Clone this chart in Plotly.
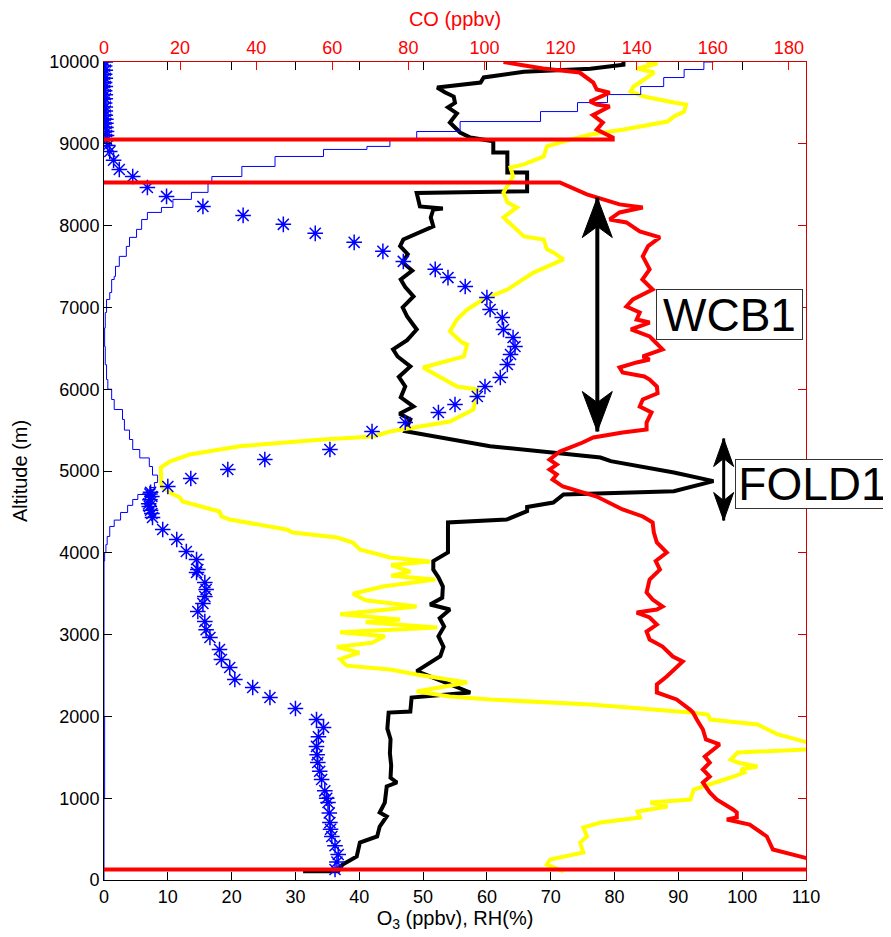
import plotly.graph_objects as go

# (altitude m, ozone ppbv) - black
o3_profile = [
    (108, 31.2), (108, 36.7), (190, 37.4), (287, 39.6), (458, 40.1), (532, 42.8),
    (654, 43.2), (776, 44.3), (825, 43.2), (947, 44.0), (1143, 44.3), (1192, 45.9),
    (1250, 44.9), (1400, 45.0), (1550, 44.8), (1720, 44.9), (1850, 44.4), (2047, 44.6),
    (2060, 48.0), (2231, 48.2), (2292, 57.4), (2553, 49.0), (2736, 52.7), (2850, 53.2),
    (2980, 52.4), (3100, 53.3), (3200, 52.6), (3307, 54.2), (3368, 51.1), (3450, 53.0),
    (3588, 53.1), (3700, 52.4), (3795, 51.6), (3898, 51.6), (4004, 53.9), (4371, 53.9),
    (4407, 63.1), (4509, 66.3), (4560, 66.3), (4615, 70.4), (4713, 72.0), (4753, 89.3),
    (4876, 95.5), (4982, 89.3), (5120, 79.4), (5165, 77.8), (5303, 60.5), (5446, 50.0),
    (5487, 47.2), (5630, 48.0), (5700, 46.3), (5788, 48.5), (5900, 46.5), (6033, 47.2),
    (6150, 46.2), (6278, 48.0), (6400, 46.0), (6486, 45.3), (6600, 47.5), (6730, 49.0),
    (6888, 47.5), (7000, 46.8), (7133, 48.5), (7250, 47.2), (7341, 46.5), (7450, 48.3),
    (7550, 46.8), (7650, 47.6), (7750, 46.4), (7830, 46.9), (7990, 51.6), (8100, 51.2),
    (8197, 51.6), (8210, 53.1), (8235, 49.5), (8400, 49.0), (8421, 66.3), (8649, 66.3),
    (8649, 63.2), (8894, 63.2), (8894, 61.0), (9032, 61.0), (9077, 57.4), (9138, 55.8),
    (9260, 54.2), (9372, 55.3), (9446, 53.9), (9500, 55.0), (9578, 54.8), (9630, 53.4),
    (9688, 52.2), (9749, 59.0), (9811, 59.5), (9880, 65.8), (9917, 76.2), (9966, 81.4),
    (10000, 81.4),
]

# (altitude m, relative humidity %) - yellow
rh_profile = [
    (104, 72.0), (190, 69.4), (251, 69.9), (336, 75.1), (458, 74.6), (532, 75.7),
    (642, 75.1), (703, 77.8), (764, 84.0), (837, 83.6), (898, 88.3), (947, 85.6),
    (984, 91.9), (1106, 92.4), (1253, 98.2), (1314, 100.3), (1351, 99.8), (1388, 102.4),
    (1436, 99.3), (1473, 98.2), (1559, 99.3), (1595, 110.3), (1640, 114.0), (1681, 110.3),
    (1779, 105.6), (1901, 102.4), (1962, 95.0), (2023, 94.6), (2047, 91.9), (2145, 76.2),
    (2207, 60.5), (2244, 54.2), (2304, 49.0), (2414, 56.9), (2512, 49.0), (2573, 44.8),
    (2620, 38.0), (2700, 37.0), (2780, 40.0), (2850, 36.5), (2900, 42.0), (2980, 44.0),
    (3030, 37.0), (3086, 52.2), (3150, 41.0), (3184, 46.4), (3250, 37.0), (3307, 44.3),
    (3343, 49.0), (3420, 41.0), (3500, 39.0), (3588, 43.7), (3673, 51.9), (3720, 45.0),
    (3771, 48.0), (3850, 45.0), (3894, 51.1), (3943, 44.8), (4040, 40.1), (4126, 39.0),
    (4187, 36.5), (4248, 29.6), (4285, 28.6), (4407, 19.7), (4444, 18.4), (4505, 18.1),
    (4627, 12.3), (4676, 11.9), (4737, 10.3), (4810, 9.0), (5042, 8.9), (5116, 10.3),
    (5201, 13.4), (5303, 21.3), (5385, 34.3), (5422, 42.2), (5483, 44.8), (5605, 54.2),
    (5752, 57.9), (5997, 58.5), (6033, 55.3), (6265, 50.0), (6400, 56.4), (6547, 56.9),
    (6571, 56.1), (6706, 54.2), (6852, 55.3), (6974, 56.9), (7097, 59.4), (7218, 63.2),
    (7341, 65.7), (7426, 67.3), (7587, 72.0), (7672, 70.4), (7709, 69.4), (7830, 68.9),
    (7868, 65.8), (7990, 64.1), (8100, 62.6), (8222, 64.7), (8284, 63.2), (8406, 62.6),
    (8480, 63.2), (8600, 64.1), (8711, 63.7), (8748, 65.8), (8846, 68.9), (8968, 69.4),
    (9028, 72.0), (9113, 76.2), (9174, 81.4), (9272, 88.3), (9333, 89.3), (9394, 90.9),
    (9480, 91.2), (9504, 89.3), (9578, 84.6), (9639, 82.5), (9700, 83.0), (9871, 86.2),
    (9920, 83.6), (9980, 86.7), (10000, 85.0),
]

# (altitude m, CO ppbv) - red, top axis; 0 = missing-data drop, None = gap
co_profile = [
    (128, 0), (128, 188.0), (251, 186.0), (287, 182.9), (373, 175.8), (532, 174.2),
    (617, 171.5), (678, 169.7), (740, 163.7), (764, 166.3), (825, 166.3), (862, 165.3),
    (984, 161.0), (1070, 159.2), (1192, 157.4), (1265, 159.2), (1351, 157.4), (1436, 159.2),
    (1510, 157.9), (1657, 161.8), (1718, 158.2), (1840, 157.4), (1962, 155.8), (2047, 154.8),
    (2084, 154.0), (2207, 150.5), (2292, 145.3), (2390, 145.3), (2488, 147.9), (2671, 152.1),
    (2732, 149.5), (2854, 146.8), (2940, 143.4), (3037, 142.6), (3123, 145.3), (3209, 143.4),
    (3270, 140.0), (3307, 145.3), (3343, 146.8), (3429, 144.2), (3515, 142.6), (3673, 143.4),
    (3795, 146.1), (3900, 145.0), (4004, 147.9), (4126, 145.3), (4250, 144.5), (4371, 144.2),
    (4444, 141.6), (4530, 136.3), (4688, 129.5), (4810, 120.6), (4896, 117.9), (4957, 119.0),
    (5018, 117.1), (5079, 119.0), (5140, 117.1), (5238, 119.8), (5348, 125.8), (5409, 128.6),
    (5471, 136.3), (5507, 142.6), (5593, 142.6), (5715, 143.9), (5788, 140.8), (5874, 141.6),
    (5950, 145.5), (6033, 145.3), (6118, 143.4), (6155, 142.0), (6204, 136.3), (6265, 135.5),
    (6327, 140.0), (6363, 143.4), (6400, 141.6), (6486, 146.8), (6608, 144.2), (6645, 143.4),
    (6730, 138.5), (6815, 143.4), (6852, 140.0), (6937, 140.8), (7011, 137.3), (7097, 139.0),
    (7218, 144.2), (7341, 141.5), (7465, 143.4), (7624, 141.6), (7750, 143.0), (7856, 146.1),
    (7929, 140.8), (8039, 137.3), (8075, 132.9), (8161, 135.5), (8222, 141.6), (8259, 135.5),
    (8381, 126.9), (8418, 125.0), (8527, 119.8), (8527, 0), None, (9052, 0), (9052, 133.7),
    (9077, 133.7), (9174, 129.5), (9260, 131.1), (9350, 128.5), (9455, 132.9), (9480, 129.5),
    (9517, 127.7), (9626, 132.9), (9663, 129.5), (9749, 128.6), (9871, 125.0), (9920, 115.4),
    (9960, 110.1), (9984, 106.6), (10000, 105.0),
]

# blue asterisks
star_profile = [
    (128, 36.2), (220, 36.5), (312, 36.7), (420, 36.2), (532, 35.7), (620, 35.5),
    (703, 35.4), (820, 35.3), (947, 35.1), (1000, 34.9), (1090, 34.6), (1228, 34.1),
    (1330, 33.8), (1436, 33.5), (1530, 33.4), (1633, 33.3), (1750, 33.6), (1865, 34.4),
    (1962, 33.3), (2096, 30.0), (2231, 26.0), (2353, 23.3), (2451, 20.5), (2598, 19.7),
    (2695, 18.4), (2818, 18.1), (2965, 16.6), (3060, 16.0), (3160, 15.8), (3282, 14.7),
    (3380, 15.5), (3466, 15.8), (3550, 16.0), (3637, 15.8), (3759, 14.5), (3795, 14.7),
    (3918, 14.5), (4016, 12.9), (4162, 11.4), (4285, 9.2), (4432, 7.6), (4480, 7.5),
    (4520, 7.3), (4566, 7.1), (4600, 7.0), (4650, 7.2), (4688, 7.5), (4720, 7.2),
    (4740, 7.3), (4810, 10.0), (4908, 13.6), (5018, 19.4), (5140, 25.2), (5263, 35.4),
    (5483, 42.0), (5593, 47.2), (5715, 52.4), (5813, 55.0), (5911, 58.5), (6033, 59.7),
    (6143, 62.1), (6302, 63.2), (6424, 63.7), (6522, 64.4), (6632, 64.1), (6730, 62.6),
    (6876, 62.4), (6974, 60.5), (7121, 60.0), (7255, 56.6), (7364, 53.9), (7465, 51.9),
    (7562, 46.9), (7685, 43.7), (7795, 39.2), (7905, 33.1), (8015, 28.1), (8125, 21.8),
    (8235, 15.5), (8357, 9.8), (8466, 6.8), (8600, 4.5), (8686, 2.4), (8800, 1.5),
    (8906, 0.9), (8980, 0.6), (9052, 0.4), (9100, 0.4), (9150, 0.4), (9200, 0.3),
    (9250, 0.3), (9300, 0.3), (9350, 0.2), (9400, 0.2), (9450, 0.2), (9500, 0.1),
    (9550, 0.2), (9600, 0.2), (9650, 0.1), (9700, 0.2), (9750, 0.1), (9800, 0.2),
    (9850, 0.1), (9900, 0.2), (9950, 0.1), (10000, 0.2),
]

# thin blue stepped profile
step_profile = [
    (0, 0.0), (1000, 0.1), (2000, 0.0), (3000, 0.0), (3900, 0.1), (4004, 0.3),
    (4100, 0.5), (4200, 0.9), (4322, 1.6), (4400, 2.6), (4493, 3.7), (4580, 4.5),
    (4652, 5.3), (4713, 6.8), (4760, 7.3), (4798, 7.9), (4859, 8.4), (4950, 7.6),
    (5055, 7.1), (5160, 5.6), (5263, 4.5), (5385, 4.0), (5500, 3.2), (5630, 2.9),
    (5752, 1.6), (5874, 1.2), (6000, 0.6), (6118, 0.4), (6300, 0.2), (6522, 0.1),
    (6750, 0.2), (6937, 0.4), (7097, 0.9), (7182, 1.2), (7341, 1.6), (7379, 1.8),
    (7502, 2.4), (7624, 3.5), (7746, 4.0), (7856, 5.1), (7954, 5.9), (8075, 6.8),
    (8161, 9.0), (8222, 10.8), (8320, 13.7), (8406, 16.3), (8527, 16.9), (8600, 21.6),
    (8723, 26.8), (8845, 34.4), (8931, 41.2), (8968, 44.8), (9052, 49.0), (9150, 55.8),
    (9272, 68.4), (9394, 74.2), (9504, 78.9), (9602, 84.1), (9700, 87.7), (9810, 90.9),
    (9908, 94.0), (10000, 95.5),
]

# layer arrows: (x on bottom axis, lower tip alt, upper tip alt)
wcb_arrow = (77.3, 5483, 8343)
fold_arrow = (97.1, 4395, 5397)
# layer labels: (text, alt of box centre)
wcb_label = ('WCB1', 6919)
fold_label = ('FOLD1', 4847)


def unpack(profile):
    alt = [p[0] if p else None for p in profile]
    val = [p[1] if p else None for p in profile]
    return val, alt


FONT = 'Liberation Sans, Arial, Helvetica, sans-serif'

fig = go.Figure()

x, y = unpack(o3_profile)
fig.add_trace(go.Scatter(x=x, y=y, mode='lines', line=dict(color='black', width=4)))
x, y = unpack(rh_profile)
fig.add_trace(go.Scatter(x=x, y=y, mode='lines', line=dict(color='#ffff00', width=4)))
x, y = unpack(step_profile)
fig.add_trace(go.Scatter(x=x, y=y, mode='lines', line=dict(color='blue', width=1, shape='vh')))
x, y = unpack(star_profile)
fig.add_trace(go.Scatter(x=x, y=y, mode='markers',
                         marker=dict(symbol='asterisk-open', size=13, color='blue',
                                     line=dict(color='blue', width=1.5))))
x, y = unpack(co_profile)
fig.add_trace(go.Scatter(x=x, y=y, mode='lines', xaxis='x2', yaxis='y2',
                         line=dict(color='red', width=4), connectgaps=False))

tick_font = dict(family=FONT, size=18, color='black')
# the page body adds an 8px margin, so the figure is 8px smaller than the window
fig.update_layout(
    width=883, height=929,
    margin=dict(l=96, r=85, t=54, b=57),
    plot_bgcolor='white', paper_bgcolor='white',
    showlegend=False,
    font=dict(family=FONT, size=18, color='black'),
    xaxis=dict(range=[0, 110], dtick=10, ticks='inside', ticklen=8, tickcolor='black',
               showline=True, linecolor='black', linewidth=1, mirror='ticks',
               showgrid=False, zeroline=False, tickfont=tick_font, automargin=False,
               title=dict(text='O<sub>3</sub> (ppbv), RH(%)', font=dict(size=20), standoff=3)),
    yaxis=dict(range=[0, 10000], dtick=1000, ticks='inside', ticklen=8, tickcolor='black',
               showline=True, linecolor='black', linewidth=1, mirror='ticks', tickformat='d',
               showgrid=False, zeroline=False, tickfont=tick_font, automargin=False,
               title=dict(text='Altitude (m)', font=dict(size=20), standoff=16)),
    xaxis2=dict(range=[0, 184.5], dtick=20, overlaying='x', side='top', anchor='y2',
                ticks='inside', ticklen=8, tickcolor='red', showline=True, linecolor='#d00000',
                linewidth=1, showgrid=False, zeroline=False, automargin=False,
                tickfont=dict(family=FONT, size=18, color='red'),
                title=dict(text='CO (ppbv)', font=dict(size=20, color='red'), standoff=6)),
    yaxis2=dict(range=[0, 10000], dtick=1000, overlaying='y', side='right', anchor='x2',
                ticks='inside', ticklen=8, tickcolor='#d00000', showline=True,
                linecolor='#d00000', linewidth=1, showticklabels=False,
                showgrid=False, zeroline=False, automargin=False),
)

# double arrows: shaft in data units, heads in pixels anchored at the tips
for (ax_x, lo, hi), (hw, hl, notch), shaft_w in [(wcb_arrow, (15, 40, 29), 4),
                                                   (fold_arrow, (10, 28, 20), 3)]:
    fig.add_shape(type='line', xref='x', yref='y', x0=ax_x, x1=ax_x, y0=lo, y1=hi,
                  line=dict(color='black', width=shaft_w))
    fig.add_shape(type='path', xref='x', yref='y', xsizemode='pixel', ysizemode='pixel',
                  xanchor=ax_x, yanchor=hi,
                  path=f'M0,0 L{hw},{-hl} L0,{-notch} L{-hw},{-hl} Z',
                  fillcolor='black', line=dict(color='black', width=1))
    fig.add_shape(type='path', xref='x', yref='y', xsizemode='pixel', ysizemode='pixel',
                  xanchor=ax_x, yanchor=lo,
                  path=f'M0,0 L{hw},{hl} L0,{notch} L{-hw},{hl} Z',
                  fillcolor='black', line=dict(color='black', width=1))

for (text, alt), left, w, h in [(wcb_label, 0.786, 145, 49), (fold_label, 0.899, 153, 48)]:
    fig.add_annotation(x=left, y=alt, xref='paper', yref='y', xanchor='left', yanchor='middle',
                       text=text, showarrow=False, width=w, height=h,
                       font=dict(family=FONT, size=46, color='black'),
                       bordercolor='#333333', borderwidth=1, borderpad=0, bgcolor='white')

fig.write_html("out.html")
